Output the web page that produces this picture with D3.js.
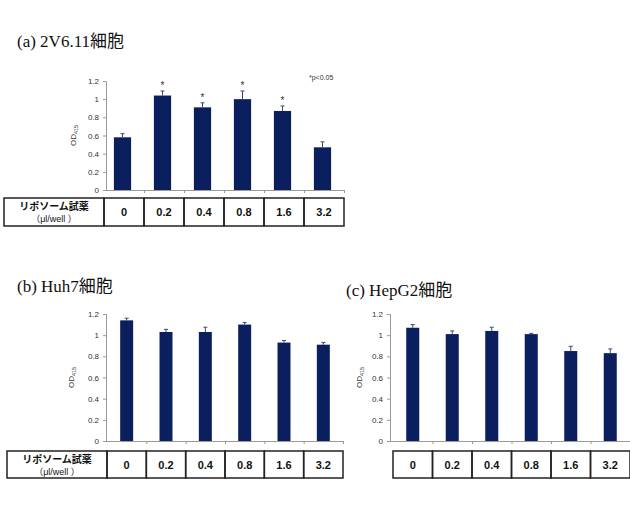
<!DOCTYPE html>
<html>
<head>
<meta charset="utf-8">
<script src="https://cdn.jsdelivr.net/npm/d3@7"></script>
<style>
  body { margin: 0; background: #fff; }
  svg { display: block; }
</style>
</head>
<body>
<div id="chart"></div>
<script>
// Dose of liposome reagent (μl/well), shared by all three panels
var doses = ['0', '0.2', '0.4', '0.8', '1.6', '3.2'];
var yTicks = [0, 0.2, 0.4, 0.6, 0.8, 1, 1.2];

// (a) 2V6.11 cells
var valuesA = [0.58, 1.04, 0.91, 1.00, 0.87, 0.47];
var errorsA = [0.04, 0.05, 0.05, 0.09, 0.055, 0.06];
var signifA = [false, true, true, true, true, false];

// (b) Huh7 cells
var valuesB = [1.14, 1.03, 1.03, 1.10, 0.93, 0.91];
var errorsB = [0.02, 0.025, 0.045, 0.02, 0.02, 0.02];

// (c) HepG2 cells
var valuesC = [1.07, 1.01, 1.04, 1.01, 0.85, 0.83];
var errorsC = [0.03, 0.03, 0.035, 0.007, 0.045, 0.04];

var barColor = '#0b1f5e';
var axisColor = '#9a9a9a';
var serif = '"Liberation Serif", "DejaVu Serif", "Noto Sans CJK JP", serif';
var sans = '"Liberation Sans", Arial, "Noto Sans CJK JP", sans-serif';

var svg = d3.select('#chart').append('svg')
            .attr('width', 630)
            .attr('height', 510);

// Draw one panel: title, axes, bars, error bars and the dose table underneath
function drawPanel(p) {
  var x = d3.scaleBand().domain(doses).range([p.x0, p.x1]).padding(0);
  var y = d3.scaleLinear().domain([0, 1.2]).range([p.yBottom, p.yTop]);
  var edges = d3.scaleLinear().domain([0, doses.length]).range([p.x0, p.x1]);
  var barW = x.bandwidth() * p.barFrac;
  var cx = function(i) { return x(doses[i]) + x.bandwidth() / 2 + p.barShift; };

  svg.append('text')
     .attr('x', p.titleX).attr('y', p.titleY)
     .style('font-family', serif)
     .style('font-size', '17px')
     .style('fill', '#111')
     .text(p.title);

  // y axis
  var yAxis = d3.axisLeft(y)
                .tickValues(yTicks)
                .tickSize(3)
                .tickPadding(4)
                .tickFormat(d3.format('~g'));
  var gy = svg.append('g')
              .attr('transform', 'translate(' + p.axisX + ',0)')
              .call(yAxis);
  gy.select('.domain').attr('stroke', axisColor);
  gy.selectAll('.tick line').attr('stroke', axisColor);
  gy.selectAll('.tick text')
    .style('font-family', sans).style('font-size', '8px').style('fill', '#333');

  // x axis: plain line with marks at the category boundaries
  var xAxis = d3.axisBottom(edges)
                .tickValues(d3.range(1, doses.length + 1))
                .tickSizeInner(3)
                .tickSizeOuter(0)
                .tickFormat('');
  var gx = svg.append('g')
              .attr('transform', 'translate(0,' + p.yBottom + ')')
              .call(xAxis);
  gx.select('.domain').attr('stroke', axisColor).attr('d', 'M' + p.axisX + ',0.5H' + p.x1);
  gx.selectAll('.tick line').attr('stroke', axisColor);

  // y label OD415
  var lab = svg.append('text')
               .attr('transform', 'translate(' + p.labelX + ',' + ((p.yTop + p.yBottom) / 2) + ') rotate(-90)')
               .attr('text-anchor', 'middle')
               .style('font-family', sans)
               .style('font-size', '8px')
               .style('fill', '#333');
  lab.append('tspan').text('OD');
  lab.append('tspan').attr('dy', 2).style('font-size', '5.5px').text('415');

  // bars
  svg.append('g').selectAll('rect')
     .data(p.values)
     .join('rect')
     .attr('x', function(d, i) { return cx(i) - barW / 2; })
     .attr('y', function(d) { return y(d); })
     .attr('width', barW)
     .attr('height', function(d) { return y(0) - y(d); })
     .style('fill', barColor);

  // upper error whiskers
  var eg = svg.append('g').attr('stroke', '#3a4a70').attr('stroke-width', 1);
  p.values.forEach(function(v, i) {
    eg.append('line')
      .attr('x1', cx(i)).attr('x2', cx(i))
      .attr('y1', y(v)).attr('y2', y(v + p.errors[i]));
    eg.append('line')
      .attr('x1', cx(i) - 2).attr('x2', cx(i) + 2)
      .attr('y1', y(v + p.errors[i])).attr('y2', y(v + p.errors[i]));
  });

  // significance marks
  if (p.signif) {
    var marked = d3.range(doses.length).filter(function(i) { return p.signif[i]; });
    svg.append('g').selectAll('text')
       .data(marked)
       .join('text')
       .attr('x', function(i) { return cx(i); })
       .attr('y', function(i) { return y(p.values[i] + p.errors[i]) - 2; })
       .attr('text-anchor', 'middle')
       .style('font-family', sans)
       .style('font-size', '10px')
       .style('fill', '#333')
       .text('*');
  }

  // dose table
  var t = svg.append('g').attr('class', 'table');
  var rowH = p.tableBottom - p.tableTop;
  if (p.tableLeft !== null) {
    t.append('rect')
     .attr('x', p.tableLeft).attr('y', p.tableTop)
     .attr('width', p.x0 - p.tableLeft).attr('height', rowH);
    t.append('text')
     .attr('x', (p.tableLeft + p.x0) / 2).attr('y', p.tableTop + 12)
     .attr('text-anchor', 'middle')
     .style('font-weight', 'bold').style('font-size', '10px')
     .text('リポソーム試薬');
    t.append('text')
     .attr('x', (p.tableLeft + p.x0) / 2).attr('y', p.tableTop + 24)
     .attr('text-anchor', 'middle')
     .style('font-size', '9px')
     .text('（μl/well ）');
  }
  t.selectAll('rect.cell')
   .data(doses)
   .join('rect')
   .attr('class', 'cell')
   .attr('x', function(d) { return x(d); })
   .attr('y', p.tableTop)
   .attr('width', x.bandwidth())
   .attr('height', rowH);
  t.selectAll('text.val')
   .data(doses)
   .join('text')
   .attr('class', 'val')
   .attr('x', function(d) { return x(d) + x.bandwidth() / 2; })
   .attr('y', p.tableTop + rowH / 2 + 4)
   .attr('text-anchor', 'middle')
   .style('font-weight', 'bold').style('font-size', '11px')
   .text(function(d) { return d; });
  t.selectAll('rect')
   .style('fill', 'none').style('stroke', '#222').style('stroke-width', 1.5);
  t.selectAll('text')
   .style('font-family', sans).style('fill', '#111');
}

drawPanel({
  title: '(a) 2V6.11細胞', titleX: 17, titleY: 47,
  values: valuesA, errors: errorsA, signif: signifA,
  x0: 104, x1: 344, axisX: 106, yTop: 81, yBottom: 190,
  barFrac: 0.43, barShift: -1.5, labelX: 76,
  tableLeft: 4, tableTop: 198, tableBottom: 226
});

drawPanel({
  title: '(b) Huh7細胞', titleX: 17, titleY: 292,
  values: valuesB, errors: errorsB,
  x0: 107, x1: 343, axisX: 106, yTop: 314, yBottom: 441,
  barFrac: 0.33, barShift: 0, labelX: 74,
  tableLeft: 7, tableTop: 451, tableBottom: 478
});

drawPanel({
  title: '(c) HepG2細胞', titleX: 346, titleY: 296,
  values: valuesC, errors: errorsC,
  x0: 393, x1: 630, axisX: 390, yTop: 314, yBottom: 441,
  barFrac: 0.33, barShift: 0, labelX: 362,
  tableLeft: null, tableTop: 451, tableBottom: 478
});

// significance note for panel (a)
svg.append('text')
   .attr('x', 309).attr('y', 80)
   .style('font-family', sans)
   .style('font-size', '7px')
   .style('fill', '#333')
   .text('*p<0.05');
</script>
</body>
</html>
